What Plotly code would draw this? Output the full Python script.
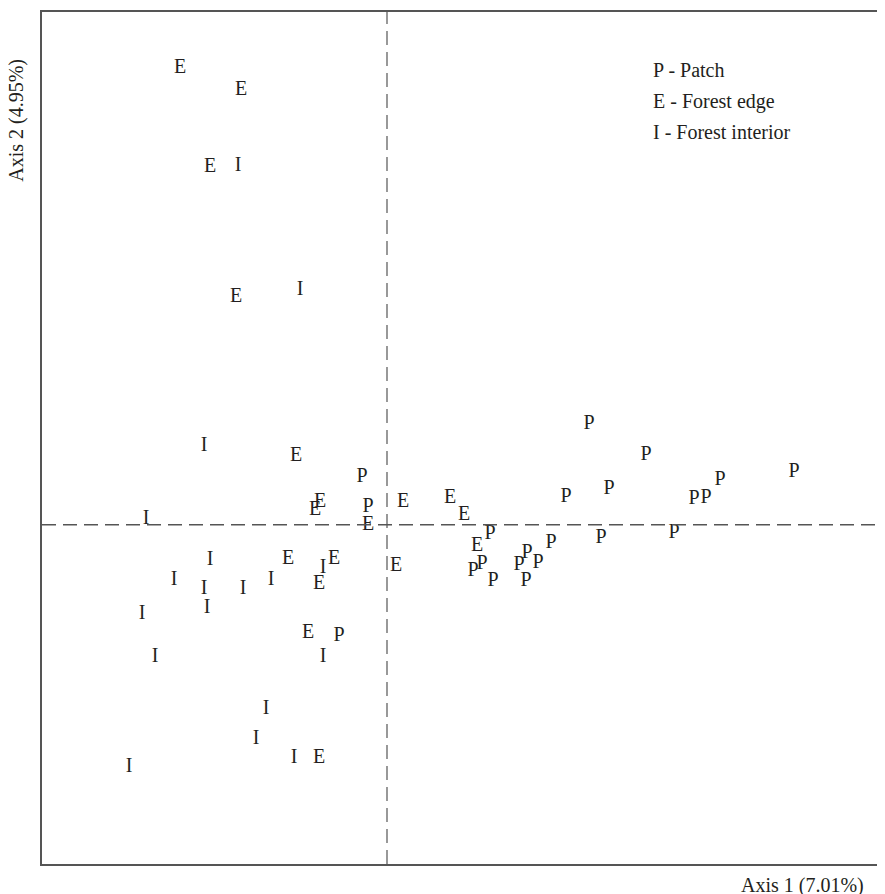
import plotly.graph_objects as go

# Correspondence analysis scores (Axis 1, Axis 2)
patch_x = [-0.25, -0.19, -0.48, 2.02, 2.59, 4.07, 3.33, 2.22, 1.79, 3.07, 3.19,
           1.03, 1.64, 2.14, 2.87, 0.86, 0.95, 1.06, 1.32, 1.40, 1.51, 1.39]
patch_y = [0.48, 0.18, -1.11, 1.01, 0.70, 0.53, 0.45, 0.36, 0.28, 0.26, 0.27,
           -0.09, -0.18, -0.13, -0.08, -0.46, -0.39, -0.56, -0.40, -0.28, -0.38, -0.56]

edge_x = [-2.07, -1.46, -1.77, -1.51, -0.91, -0.67, -0.72, -0.19, 0.16, 0.63, 0.77,
          0.90, -0.99, -0.53, 0.09, -0.68, -0.79, -0.68]
edge_y = [4.58, 4.36, 3.59, 2.28, 0.69, 0.23, 0.15, 0.00, 0.23, 0.27, 0.10,
          -0.21, -0.34, -0.34, -0.41, -0.59, -1.08, -2.34]

interior_x = [-1.49, -0.87, -1.83, -2.41, -1.77, -0.64, -2.13, -1.83, -1.44, -1.16,
              -1.80, -2.45, -2.32, -0.64, -1.21, -1.31, -0.93, -2.58]
interior_y = [3.60, 2.35, 0.79, 0.06, -0.35, -0.43, -0.55, -0.64, -0.64, -0.55,
              -0.83, -0.89, -1.33, -1.33, -1.85, -2.15, -2.34, -2.43]

groups = [("P", patch_x, patch_y), ("E", edge_x, edge_y), ("I", interior_x, interior_y)]
legend_lines = ["P - Patch", "E - Forest edge", "I - Forest interior"]
x_title = "Axis 1 (7.01%)"
y_title = "Axis 2 (4.95%)"

FONT = "Liberation Serif"
TXT = "#231f20"
LINE = "#555555"

fig = go.Figure()
for code, xs, ys in groups:
    fig.add_trace(go.Scatter(
        x=xs, y=ys, mode="text", text=[code] * len(xs),
        textposition="middle center",
        textfont=dict(family=FONT, size=20, color=TXT),
        showlegend=False, hoverinfo="skip"))

# dashed reference lines through origin
fig.add_shape(type="line", xref="x", yref="paper", x0=0, x1=0, y0=0, y1=1,
              line=dict(color=LINE, width=1.2, dash="14px,7px"))
fig.add_shape(type="line", xref="paper", yref="y", x0=0, x1=1, y0=0, y1=0,
              line=dict(color=LINE, width=1.6, dash="14px,7px"))

for i, t in enumerate(legend_lines):
    fig.add_annotation(xref="paper", yref="paper", x=0.722, y=0.932 - i * 0.0367,
                       text=t, showarrow=False, xanchor="left", yanchor="middle",
                       font=dict(family=FONT, size=20, color=TXT))

fig.add_annotation(xref="paper", yref="paper", x=-0.0297, y=0.8735, text=y_title,
                   textangle=-90, showarrow=False, xanchor="center", yanchor="middle",
                   font=dict(family=FONT, size=20, color=TXT))
fig.add_annotation(xref="paper", yref="paper", x=0.977, y=-0.0258, text=x_title,
                   showarrow=False, xanchor="right", yanchor="middle",
                   font=dict(family=FONT, size=20, color=TXT))

fig.update_xaxes(range=[-3.45, 4.98], showgrid=False, zeroline=False, showticklabels=False,
                 ticks="", showline=True, linecolor=LINE, linewidth=2, mirror=True)
fig.update_yaxes(range=[-3.40, 5.14], showgrid=False, zeroline=False, showticklabels=False,
                 ticks="", showline=True, linecolor=LINE, linewidth=2, mirror=False)

# page body adds an 8px offset, so margins are shifted to compensate
fig.update_layout(width=885, height=894, margin=dict(l=34, r=8, t=2, b=38),
                  plot_bgcolor="white", paper_bgcolor="white")

fig.write_html("out.html")
